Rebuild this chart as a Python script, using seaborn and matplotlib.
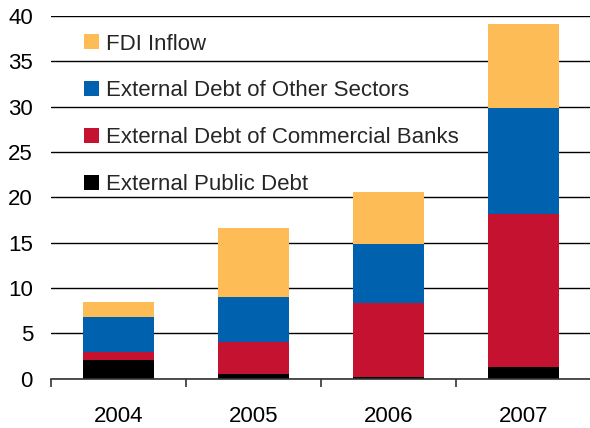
import matplotlib
matplotlib.use("Agg")
import matplotlib.pyplot as plt
import seaborn as sns
import pandas as pd
import numpy as np
from matplotlib.patches import Patch
from matplotlib.ticker import FixedLocator

years = ["2004", "2005", "2006", "2007"]
public_debt = [2.05, 0.5, 0.15, 1.3]
bank_debt = [0.92, 3.55, 8.15, 16.85]
other_debt = [3.81, 4.95, 6.6, 11.7]
fdi_inflow = [1.65, 7.6, 5.7, 9.25]

series_names = ["External Public Debt", "External Debt of Commercial Banks",
                "External Debt of Other Sectors", "FDI Inflow"]
series_vals = [public_debt, bank_debt, other_debt, fdi_inflow]
colors = ["#000000", "#C41230", "#0061AE", "#FDBC55"]

sns.set_theme(style="white")
plt.rcParams["font.family"] = ["Liberation Sans", "DejaVu Sans"]

fig = plt.figure(figsize=(5.9, 4.28), dpi=100)
ax = fig.add_axes([51/590, 1 - 378.7/428, 1 - 51/590, (378.7 - 16)/428])

cum = np.cumsum(np.array(series_vals), axis=0)
# draw from top layer down so lower layers paint over
for i in range(len(series_names) - 1, -1, -1):
    df = pd.DataFrame({"year": years, "value": cum[i]})
    sns.barplot(data=df, x="year", y="value", color=colors[i], width=0.526,
                saturation=1, ax=ax, zorder=3, edgecolor="none")

ax.set_ylim(0, 40)
ax.set_xlim(-0.5, 3.49)
ax.set_yticks(range(0, 41, 5))
ax.yaxis.grid(True, color="#000000", linewidth=1.0)
ax.set_axisbelow(True)
ax.set_xlabel("")
ax.set_ylabel("")
for s in ["left", "right", "top"]:
    ax.spines[s].set_visible(False)
ax.spines["bottom"].set_color("#333333")
ax.spines["bottom"].set_linewidth(1.2)
ax.spines["bottom"].set_zorder(4)

ax.tick_params(axis="y", length=0, pad=13, labelsize=16, labelcolor="black")
ax.tick_params(axis="x", which="major", length=0, pad=20, labelsize=16, labelcolor="black")
ax.xaxis.set_minor_locator(FixedLocator([-0.5, 0.5, 1.5, 2.5]))
ax.tick_params(axis="x", which="minor", bottom=True, length=6, width=1.2, color="#333333", direction="out")

handles = [Patch(facecolor=colors[i], edgecolor="none", label=series_names[i]) for i in [3, 2, 1, 0]]
fig.legend(handles=handles, loc="upper left", bbox_to_anchor=(84/590, 1 - 33.5/428),
           frameon=False, fontsize=16, handlelength=0.66, handleheight=0.66,
           handletextpad=0.33, labelspacing=1.16, borderpad=0, borderaxespad=0)

fig.savefig("out.png", dpi=100)
